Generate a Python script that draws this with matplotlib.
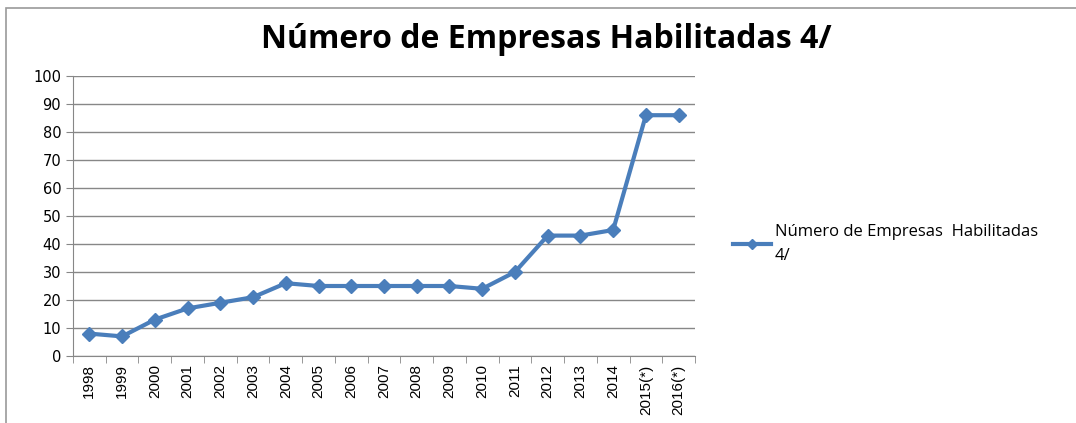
import matplotlib.pyplot as plt
import numpy as np
from matplotlib.patches import Rectangle

years = ['1998', '1999', '2000', '2001', '2002', '2003', '2004', '2005', '2006', '2007',
         '2008', '2009', '2010', '2011', '2012', '2013', '2014', '2015(*)', '2016(*)']
empresas = [8, 7, 13, 17, 19, 21, 26, 25, 25, 25, 25, 25, 24, 30, 43, 43, 45, 86, 86]

blue = '#4a7ebb'
grid_gray = '#878787'

fig = plt.figure(figsize=(10.76, 4.23), dpi=100)
ax = fig.add_axes([73 / 1076, 1 - 356 / 423, (695 - 73) / 1076, (356 - 76) / 423])

# chart border (only top/left visible in reference)
fig.add_artist(Rectangle((6 / 1076, -0.05), 1.1, 1 - 8 / 423 + 0.05, transform=fig.transFigure,
                         fill=False, edgecolor='#9a9a9a', linewidth=1.2))

x = np.arange(len(years))
line, = ax.plot(x, empresas, color=blue, linewidth=3, marker='D', markersize=7,
                markeredgecolor=blue, markerfacecolor=blue,
                label='Número de Empresas  Habilitadas\n4/')

ax.set_xlim(-0.5, len(years) - 0.5)
ax.set_ylim(0, 100)
ax.set_yticks(range(0, 101, 10))
ax.yaxis.grid(True, color=grid_gray, linewidth=1)
ax.set_axisbelow(True)

ax.set_xticks(x)
ax.set_xticklabels(years, rotation=90, fontsize=11, family='Liberation Sans')
ax.tick_params(axis='x', which='major', length=0, pad=6)
ax.set_xticks(np.arange(-0.5, len(years), 1), minor=True)
ax.tick_params(axis='x', which='minor', length=5, color=grid_gray)
ax.tick_params(axis='y', length=5, color=grid_gray, labelsize=10.5)
for lbl in ax.get_yticklabels():
    lbl.set_family('DejaVu Sans')

for side in ['top', 'right']:
    ax.spines[side].set_visible(False)
ax.spines['left'].set_color(grid_gray)
ax.spines['bottom'].set_color(grid_gray)

fig.text(546 / 1076, 1 - 40 / 423, 'Número de Empresas Habilitadas 4/', ha='center', va='center',
         fontsize=23, fontweight='bold', family='Open Sans')

leg = fig.legend(handles=[line], loc='center left', bbox_to_anchor=(718 / 1076, 1 - 244 / 423),
                 frameon=False, handlelength=2.3, handletextpad=0.2, markerscale=0.8,
                 prop={'family': 'Open Sans', 'size': 12})
for t in leg.get_texts():
    t.set_linespacing(1.6)

fig.savefig('out.png', dpi=100)
